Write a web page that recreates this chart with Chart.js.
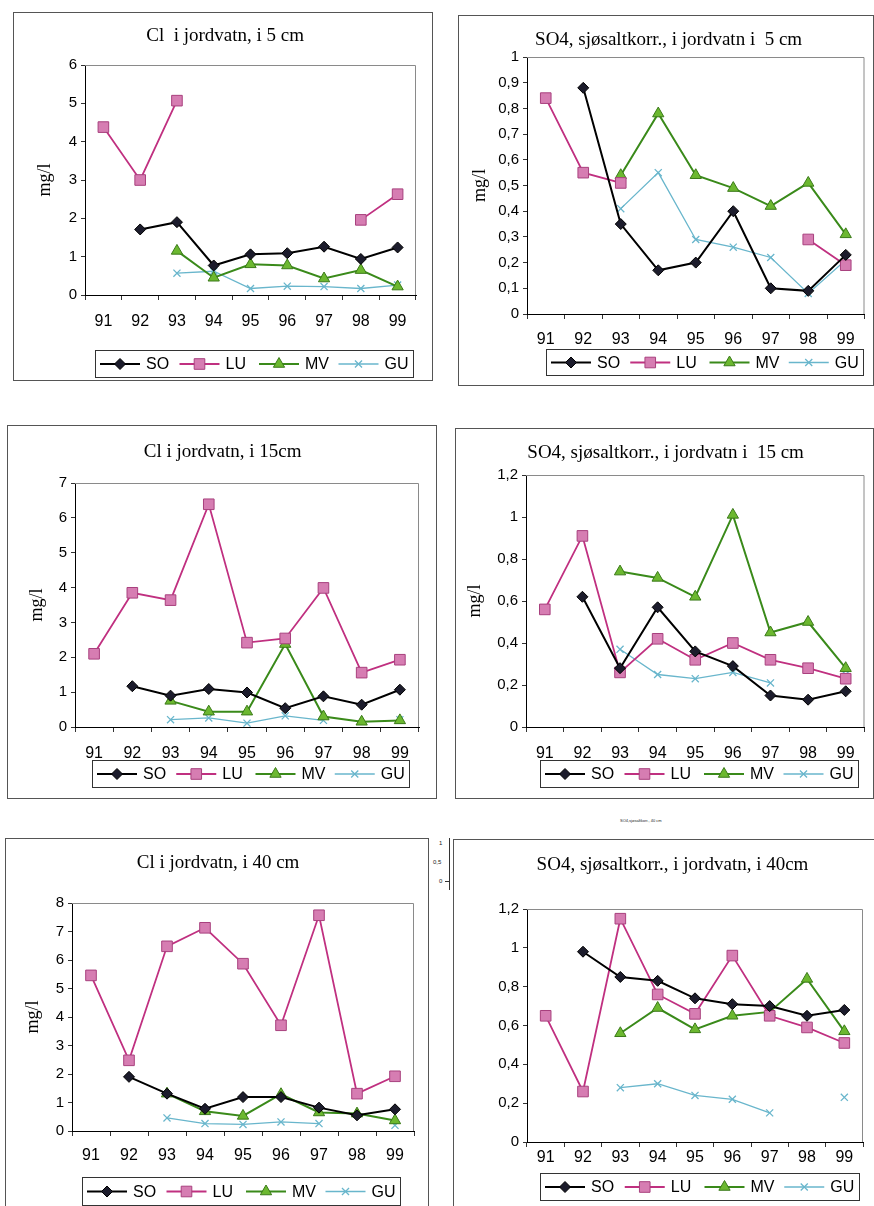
<!DOCTYPE html>
<html>
<head>
<meta charset="utf-8">
<script src="https://cdn.jsdelivr.net/npm/chart.js@4.4.0/dist/chart.umd.min.js"></script>
<style>
body { margin: 0; background: #fff; width: 874px; height: 1206px; position: relative; overflow: hidden; font-family: "Liberation Sans", Arial, sans-serif; }
.box { position: absolute; border: 1px solid #555; background: #fff; box-sizing: border-box; }
.box canvas { position: absolute; left: 0; top: 0; }
.tiny { position: absolute; font-size: 6px; line-height: 6px; color: #222; white-space: nowrap; }
.vline { position: absolute; background: #333; }
</style>
</head>
<body>
<span class="tiny" style="left:620px;top:818px;font-size:4px;">SO4,sjøsaltkorr., 40 cm</span>
<span class="tiny" style="left:439px;top:840px;">1</span>
<span class="tiny" style="left:433px;top:859px;">0,5</span>
<span class="tiny" style="left:439px;top:878px;">0</span>
<div class="vline" style="left:449px;top:838px;width:1px;height:52px;"></div>
<div class="vline" style="left:445px;top:881px;width:5px;height:1px;"></div>
<script>
const years = ['91', '92', '93', '94', '95', '96', '97', '98', '99'];
const seriesNames = ['SO', 'LU', 'MV', 'GU'];

// Cl, 5 cm
const cl5SO = [null, 1.71, 1.90, 0.77, 1.06, 1.09, 1.26, 0.94, 1.24];
const cl5LU = [4.38, 3.00, 5.07, null, null, null, null, 1.96, 2.63];
const cl5MV = [null, null, 1.15, 0.45, 0.80, 0.77, 0.43, 0.65, 0.22];
const cl5GU = [null, null, 0.57, 0.62, 0.17, 0.23, 0.22, 0.17, 0.26];

// SO4, 5 cm
const so5SO = [null, 0.88, 0.35, 0.17, 0.20, 0.40, 0.10, 0.09, 0.23];
const so5LU = [0.84, 0.55, 0.51, null, null, null, null, 0.29, 0.19];
const so5MV = [null, null, 0.54, 0.78, 0.54, 0.49, 0.42, 0.51, 0.31];
const so5GU = [null, null, 0.41, 0.55, 0.29, 0.26, 0.22, 0.08, 0.21];

// Cl, 15 cm
const cl15SO = [null, 1.17, 0.90, 1.09, 0.99, 0.54, 0.88, 0.64, 1.07];
const cl15LU = [2.10, 3.85, 3.64, 6.39, 2.42, 2.54, 3.99, 1.56, 1.93];
const cl15MV = [null, null, 0.75, 0.44, 0.44, 2.38, 0.30, 0.15, 0.19];
const cl15GU = [null, null, 0.21, 0.26, 0.11, 0.32, 0.19, null, 0.21];

// SO4, 15 cm
const so15SO = [null, 0.62, 0.28, 0.57, 0.36, 0.29, 0.15, 0.13, 0.17];
const so15LU = [0.56, 0.91, 0.26, 0.42, 0.32, 0.40, 0.32, 0.28, 0.23];
const so15MV = [null, null, 0.74, 0.71, 0.62, 1.01, 0.45, 0.50, 0.28];
const so15GU = [null, null, 0.37, 0.25, 0.23, 0.26, 0.21, null, 0.25];

// Cl, 40 cm
const cl40SO = [null, 1.90, 1.31, 0.78, 1.19, 1.19, 0.82, 0.55, 0.76];
const cl40LU = [5.46, 2.48, 6.48, 7.13, 5.87, 3.71, 7.57, 1.31, 1.92];
const cl40MV = [null, null, 1.31, 0.69, 0.53, 1.29, 0.65, 0.61, 0.37];
const cl40GU = [null, null, 0.46, 0.26, 0.23, 0.32, 0.26, null, 0.20];

// SO4, 40 cm
const so40SO = [null, 0.98, 0.85, 0.83, 0.74, 0.71, 0.70, 0.65, 0.68];
const so40LU = [0.65, 0.26, 1.15, 0.76, 0.66, 0.96, 0.65, 0.59, 0.51];
const so40MV = [null, null, 0.56, 0.69, 0.58, 0.65, 0.67, 0.84, 0.57];
const so40GU = [null, null, 0.28, 0.30, 0.24, 0.22, 0.15, null, 0.23];

const styles = [
    { borderColor: '#000000', borderWidth: 2, pointStyle: 'rectRot', pointRadius: 5.5,
      pointBackgroundColor: '#1c1c2c', pointBorderColor: '#000000', pointBorderWidth: 1 },
    { borderColor: '#c03080', borderWidth: 1.8, pointStyle: 'rect', pointRadius: 7.5,
      pointBackgroundColor: '#d67db2', pointBorderColor: '#a8407e', pointBorderWidth: 1 },
    { borderColor: '#3a8a1a', borderWidth: 2, pointStyle: 'triangle', pointRadius: 6.5,
      pointBackgroundColor: '#6cb830', pointBorderColor: '#3a7a18', pointBorderWidth: 1 },
    { borderColor: '#69b6cc', borderWidth: 1.3, pointStyle: 'crossRot', pointRadius: 5,
      pointBackgroundColor: '#69b6cc', pointBorderColor: '#69b6cc', pointBorderWidth: 1.3 }
];

const sansFont = '"Liberation Sans", Arial, sans-serif';
const serifFont = '"Liberation Serif", "Times New Roman", serif';

function fmt(v) {
    return String(Math.round(v * 10) / 10).replace('.', ',');
}

// draws the top/right of the plot frame plus the boxed excel-like legend
const frameAndLegend = {
    id: 'frameAndLegend',
    beforeDatasetsDraw(chart) {
        const a = chart.chartArea, ctx = chart.ctx;
        ctx.save();
        ctx.strokeStyle = '#8a8a8a';
        ctx.lineWidth = 1;
        ctx.beginPath();
        ctx.moveTo(a.left, a.top + 0.5);
        ctx.lineTo(a.right - 0.5, a.top + 0.5);
        ctx.lineTo(a.right - 0.5, a.bottom);
        ctx.stroke();
        ctx.restore();
    },
    afterDraw(chart, args, opts) {
        const lg = opts.box;
        if (!lg) return;
        const ctx = chart.ctx;
        ctx.save();
        ctx.strokeStyle = '#333';
        ctx.lineWidth = 1;
        ctx.strokeRect(lg.x + 0.5, lg.y + 0.5, lg.w, lg.h);
        const step = lg.w / chart.data.datasets.length;
        const cy = lg.y + lg.h / 2 + 0.5;
        chart.data.datasets.forEach((ds, i) => {
            const x0 = lg.x + i * step + 5;
            ctx.strokeStyle = ds.borderColor;
            ctx.lineWidth = ds.borderWidth;
            ctx.beginPath();
            ctx.moveTo(x0, cy);
            ctx.lineTo(x0 + 40, cy);
            ctx.stroke();
            ctx.fillStyle = ds.pointBackgroundColor;
            ctx.strokeStyle = ds.pointBorderColor;
            ctx.lineWidth = ds.pointBorderWidth;
            Chart.helpers.drawPoint(ctx, {
                pointStyle: ds.pointStyle, radius: ds.pointRadius, rotation: 0,
                borderWidth: ds.pointBorderWidth
            }, x0 + 20, cy);
            ctx.fillStyle = '#000';
            ctx.font = '16px ' + sansFont;
            ctx.textBaseline = 'middle';
            ctx.fillText(ds.label, x0 + 46, cy + 1);
        });
        ctx.restore();
    }
};

function drawChart(cfg) {
    const b = cfg.box, p = cfg.plot;
    const div = document.createElement('div');
    div.className = 'box';
    div.style.left = b.x + 'px';
    div.style.top = b.y + 'px';
    div.style.width = b.w + 'px';
    div.style.height = b.h + 'px';
    const cv = document.createElement('canvas');
    cv.width = b.w - 2;
    cv.height = b.h - 2;
    div.appendChild(cv);
    document.body.appendChild(div);

    const ox = b.x + 1, oy = b.y + 1;
    const plotL = p.l - ox, plotT = p.t - oy, plotR = p.r - ox, plotB = p.b - oy;
    const yTitleLH = 18 * 1.2;
    const padLeft = cfg.yTitleX ? cfg.yTitleX - ox - yTitleLH / 2 : plotL - 45;
    const xH = 40;
    const titleLH = 19 * 1.2;
    const tY = cfg.titleY - oy;

    new Chart(cv, {
        type: 'line',
        data: {
            labels: years,
            datasets: cfg.series.map((arr, i) => Object.assign({
                label: seriesNames[i],
                data: arr,
                fill: false,
                tension: 0,
                spanGaps: false
            }, styles[i]))
        },
        options: {
            responsive: false,
            animation: false,
            devicePixelRatio: 1,
            layout: {
                padding: { left: padLeft, right: cv.width - plotR, top: 0, bottom: cv.height - plotB - xH }
            },
            plugins: {
                legend: { display: false },
                tooltip: { enabled: false },
                title: {
                    display: true,
                    text: cfg.title,
                    color: '#000',
                    font: { family: serifFont, size: 19, weight: 'normal', lineHeight: 1.2 },
                    padding: { top: tY - titleLH / 2, bottom: plotT - tY - titleLH / 2 }
                },
                frameAndLegend: {
                    box: { x: cfg.legend.x - ox, y: cfg.legend.y - oy, w: cfg.legend.w, h: cfg.legend.h }
                }
            },
            scales: {
                x: {
                    offset: true,
                    grid: { offset: true, drawOnChartArea: false, tickLength: 5, color: '#333' },
                    border: { display: true, color: '#000', width: 1 },
                    ticks: { color: '#000', font: { family: sansFont, size: 16 }, padding: cfg.xPad - 1, maxRotation: 0 },
                    afterFit(s) { s.height = xH; }
                },
                y: {
                    min: 0,
                    max: cfg.yMax,
                    grid: { drawOnChartArea: false, tickLength: 4, color: '#333' },
                    border: { display: true, color: '#000', width: 1 },
                    ticks: { stepSize: cfg.yStep, color: '#000', padding: 4,
                        font: { family: sansFont, size: 15 },
                        callback: v => fmt(v) },
                    title: {
                        display: !!cfg.yTitleX,
                        text: 'mg/l',
                        color: '#000',
                        padding: 0,
                        font: { family: serifFont, size: 18, lineHeight: 1.2 }
                    },
                    afterFit(s) { s.width = plotL - padLeft; }
                }
            }
        },
        plugins: [frameAndLegend]
    });
}

drawChart({
    title: 'Cl  i jordvatn, i 5 cm', yMax: 6, yStep: 1,
    series: [cl5SO, cl5LU, cl5MV, cl5GU],
    box: { x: 13, y: 12, w: 420, h: 369 }, plot: { l: 85, t: 65, r: 416, b: 295 },
    titleY: 36, yTitleX: 45, xPad: 13, legend: { x: 95, y: 350, w: 318, h: 27 }
});
drawChart({
    title: 'SO4, sjøsaltkorr., i jordvatn i  5 cm', yMax: 1, yStep: 0.1,
    series: [so5SO, so5LU, so5MV, so5GU],
    box: { x: 458, y: 15, w: 416, h: 371 }, plot: { l: 527, t: 57, r: 868, b: 314 },
    titleY: 40, yTitleX: 480, xPad: 12, legend: { x: 546, y: 349, w: 317, h: 26 }
});
drawChart({
    title: 'Cl i jordvatn, i 15cm', yMax: 7, yStep: 1,
    series: [cl15SO, cl15LU, cl15MV, cl15GU],
    box: { x: 7, y: 425, w: 430, h: 374 }, plot: { l: 75, t: 483, r: 419, b: 727 },
    titleY: 452, yTitleX: 37, xPad: 13, legend: { x: 92, y: 760, w: 317, h: 27 }
});
drawChart({
    title: 'SO4, sjøsaltkorr., i jordvatn i  15 cm', yMax: 1.2, yStep: 0.2,
    series: [so15SO, so15LU, so15MV, so15GU],
    box: { x: 455, y: 428, w: 419, h: 371 }, plot: { l: 526, t: 475, r: 867, b: 727 },
    titleY: 453, yTitleX: 475, xPad: 13, legend: { x: 540, y: 760, w: 318, h: 27 }
});
drawChart({
    title: 'Cl i jordvatn, i 40 cm', yMax: 8, yStep: 1,
    series: [cl40SO, cl40LU, cl40MV, cl40GU],
    box: { x: 5, y: 838, w: 424, h: 380 }, plot: { l: 72, t: 903, r: 414, b: 1131 },
    titleY: 863, yTitleX: 33, xPad: 11, legend: { x: 82, y: 1177, w: 318, h: 28 }
});
drawChart({
    title: 'SO4, sjøsaltkorr., i jordvatn, i 40cm', yMax: 1.2, yStep: 0.2,
    series: [so40SO, so40LU, so40MV, so40GU],
    box: { x: 453, y: 839, w: 422, h: 380 }, plot: { l: 527, t: 909, r: 863, b: 1142 },
    titleY: 865, yTitleX: null, xPad: 2, legend: { x: 540, y: 1173, w: 319, h: 27 }
});
</script>
</body>
</html>
